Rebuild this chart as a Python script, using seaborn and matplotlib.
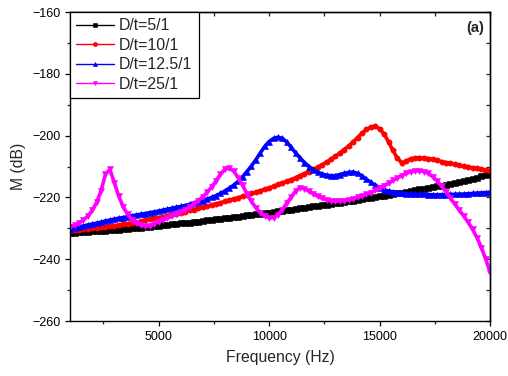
import numpy as np
import pandas as pd
import matplotlib
matplotlib.use("Agg")
import matplotlib.pyplot as plt
import seaborn as sns
from matplotlib.ticker import MultipleLocator

# Frequency grid (Hz), one reading every 200 Hz
freq = np.arange(1000, 20001, 200)

# M (dB), one list per D/t ratio
m_5 = [-231.5, -231.4, -231.3, -231.2, -231.1, -231.0, -230.9, -230.8, -230.7, -230.6,
       -230.5, -230.4, -230.3, -230.1, -230.0, -229.9, -229.8, -229.6, -229.5, -229.3,
       -229.2, -229.0, -228.9, -228.7, -228.6, -228.4, -228.2, -228.1, -227.9, -227.8,
       -227.6, -227.4, -227.2, -227.1, -226.9, -226.7, -226.5, -226.3, -226.2, -226.0,
       -225.8, -225.6, -225.4, -225.3, -225.1, -224.9, -224.7, -224.5, -224.3, -224.1,
       -223.9, -223.7, -223.5, -223.3, -223.1, -222.9, -222.7, -222.5, -222.3, -222.1,
       -221.9, -221.7, -221.5, -221.3, -221.0, -220.8, -220.6, -220.3, -220.1, -219.8,
       -219.6, -219.4, -219.1, -218.9, -218.6, -218.4, -218.2, -217.9, -217.7, -217.4,
       -217.2, -216.9, -216.7, -216.4, -216.2, -215.9, -215.6, -215.3, -215.0, -214.7,
       -214.4, -214.0, -213.6, -213.2, -212.8, -212.4]

m_10 = [-230.8, -230.6, -230.5, -230.3, -230.2, -230.0, -229.8, -229.6, -229.5, -229.3,
        -229.1, -228.9, -228.7, -228.5, -228.2, -228.0, -227.7, -227.4, -227.1, -226.8,
        -226.5, -226.2, -225.9, -225.5, -225.2, -224.9, -224.6, -224.2, -223.9, -223.5,
        -223.2, -222.8, -222.4, -222.1, -221.7, -221.3, -220.9, -220.5, -220.1, -219.6,
        -219.2, -218.7, -218.3, -217.8, -217.4, -216.9, -216.4, -215.8, -215.3, -214.8,
        -214.2, -213.6, -212.9, -212.3, -211.6, -210.9, -210.2, -209.4, -208.5, -207.6,
        -206.7, -205.6, -204.5, -203.3, -202.0, -200.6, -199.2, -198.0, -197.2, -197.0,
        -197.8, -199.5, -202.0, -204.8, -207.3, -208.8, -208.2, -207.5, -207.2, -207.1,
        -207.2, -207.4, -207.7, -208.0, -208.4, -208.7, -209.0, -209.3, -209.6, -209.9,
        -210.2, -210.4, -210.6, -210.9, -211.1, -211.3]

m_12_5 = [-230.2, -229.9, -229.6, -229.2, -228.9, -228.6, -228.3, -228.0, -227.6, -227.3,
          -227.0, -226.7, -226.5, -226.2, -225.9, -225.7, -225.4, -225.2, -224.9, -224.7,
          -224.4, -224.1, -223.8, -223.5, -223.2, -222.9, -222.6, -222.2, -221.8, -221.4,
          -221.0, -220.5, -220.0, -219.4, -218.7, -217.9, -217.0, -216.0, -214.8, -213.3,
          -211.6, -209.8, -207.8, -205.6, -203.5, -201.9, -200.9, -200.5, -200.9, -202.1,
          -203.8, -205.6, -207.2, -208.7, -210.0, -211.0, -211.8, -212.4, -212.8, -213.0,
          -212.9, -212.6, -212.2, -211.9, -211.8, -212.2, -213.0, -214.1, -215.1, -216.0,
          -216.9, -217.5, -217.9, -218.2, -218.4, -218.6, -218.8, -218.9, -218.9, -219.0,
          -219.0, -219.1, -219.1, -219.1, -219.1, -219.1, -219.0, -219.0, -218.9, -218.9,
          -218.8, -218.7, -218.6, -218.5, -218.4, -218.3]

m_25 = [-229.4, -229.0, -228.3, -227.3, -226.0, -224.2, -221.6, -217.8, -212.5, -210.9,
        -215.2, -219.6, -223.0, -225.5, -227.2, -228.3, -229.0, -229.3, -229.1, -228.6,
        -227.9, -227.3, -226.7, -226.1, -225.4, -224.7, -223.9, -223.1, -222.1, -221.0,
        -219.8, -218.3, -216.6, -214.6, -212.5, -210.9, -210.5, -211.5, -213.6, -216.1,
        -218.8, -221.3, -223.3, -224.9, -226.0, -226.6, -226.5, -225.6, -223.9, -221.8,
        -219.9, -217.9, -216.8, -217.1, -218.0, -218.8, -219.6, -220.3, -220.8, -221.1,
        -221.2, -221.1, -221.0, -220.7, -220.4, -220.0, -219.5, -219.0, -218.4, -217.7,
        -217.0, -216.2, -215.4, -214.5, -213.7, -212.9, -212.2, -211.7, -211.4, -211.4,
        -211.6, -212.2, -213.3, -214.7, -216.4, -218.2, -220.2, -222.2, -224.1, -226.0,
        -228.0, -230.3, -233.0, -236.2, -240.0, -244.3]

labels = ["D/t=5/1", "D/t=10/1", "D/t=12.5/1", "D/t=25/1"]
colors = ["black", "red", "blue", "magenta"]
markers = ["s", "o", "^", "v"]

sns.set_theme(style="ticks")
plt.rcParams["font.family"] = ["Liberation Sans", "DejaVu Sans"]

fig, ax = plt.subplots(figsize=(5.08, 3.76), dpi=100)
fig.subplots_adjust(left=0.138, right=0.965, top=0.968, bottom=0.146)

# thick line under dense markers gives the solid band look of the original
for vals, lab, col, mk in zip([m_5, m_10, m_12_5, m_25], labels, colors, markers):
    df = pd.DataFrame({"freq": freq, "M": vals})
    sns.lineplot(data=df, x="freq", y="M", ax=ax, color=col, marker=mk,
                 markersize=3.8, markeredgewidth=0.4, markeredgecolor=col,
                 linewidth=2.6, label=lab)

ax.set_xlim(1000, 20000)
ax.set_ylim(-260, -160)
ax.xaxis.set_major_locator(MultipleLocator(5000))
ax.xaxis.set_minor_locator(MultipleLocator(2500))
ax.yaxis.set_major_locator(MultipleLocator(20))
ax.yaxis.set_minor_locator(MultipleLocator(10))
ax.tick_params(which="major", direction="out", length=3.6, width=0.9,
               labelsize=9, colors="black")
ax.tick_params(which="minor", direction="out", length=2.2, width=0.9)

# top and right axes carry inward ticks without labels
top = ax.secondary_xaxis("top")
top.xaxis.set_major_locator(MultipleLocator(5000))
top.xaxis.set_minor_locator(MultipleLocator(2500))
top.tick_params(which="both", direction="in", length=2.8, width=0.9, labeltop=False)
right = ax.secondary_yaxis("right")
right.yaxis.set_major_locator(MultipleLocator(20))
right.yaxis.set_minor_locator(MultipleLocator(10))
right.tick_params(which="both", direction="in", length=2.8, width=0.9, labelright=False)

for sp in ax.spines.values():
    sp.set_visible(True)
    sp.set_linewidth(1.0)
    sp.set_color("black")
for sec in (top, right):
    for sp in sec.spines.values():
        sp.set_linewidth(1.0)

ax.set_xlabel("Frequency (Hz)", fontsize=11.3, labelpad=5)
ax.set_ylabel("M (dB)", fontsize=11.3, labelpad=4)

ax.text(0.986, 0.97, "(a)", transform=ax.transAxes, ha="right", va="top",
        fontsize=10.5, fontweight="bold")

leg = ax.legend(loc="upper left", borderaxespad=0, fontsize=11.4, frameon=True,
                fancybox=False, edgecolor="black", handlelength=2.35,
                labelspacing=0.28, borderpad=0.4, handletextpad=0.35)
leg.get_frame().set_linewidth(0.9)
leg.get_frame().set_alpha(1)
for h in leg.get_lines():
    h.set_linewidth(1.0)
    h.set_markersize(3.0)

fig.savefig("out.png", dpi=100)
